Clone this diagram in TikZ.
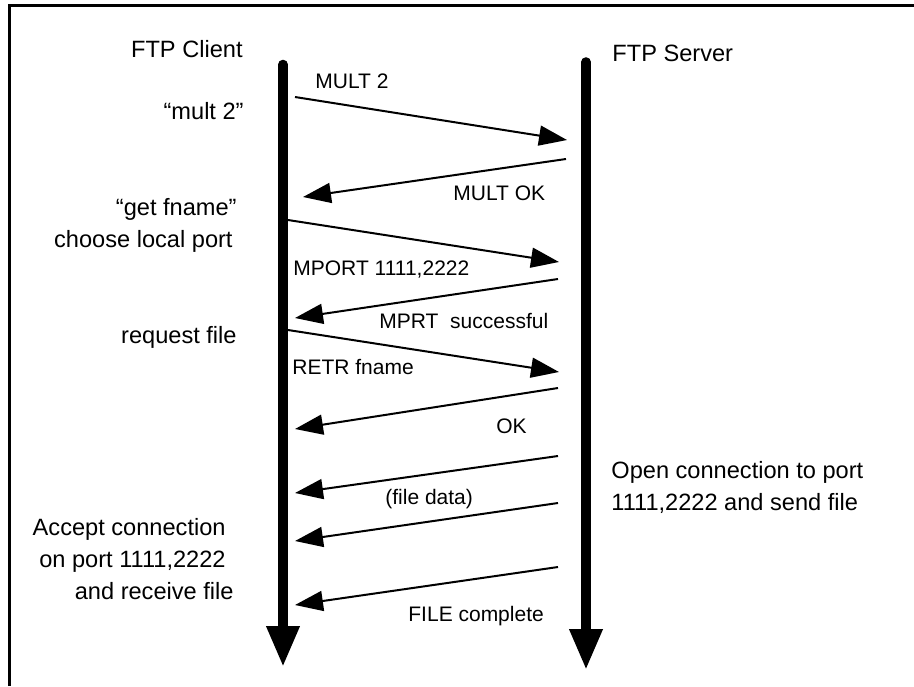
\documentclass[tikz,border=0pt]{standalone}
\usepackage{fontspec}
\setmainfont{Liberation Sans}
\usetikzlibrary{arrows.meta}

\tikzset{
  life/.style={line width=4.8pt, line cap=round, -{Triangle[width=15.5pt,length=20.5pt]}},
  msg/.style={line width=1pt, -{Triangle[width=10pt,length=14pt]}},
  lbl/.style={inner sep=0pt, font=\fontsize{10.5}{12}\selectfont, anchor=base west},
  note/.style={inner sep=0pt, font=\fontsize{11.8}{16}\selectfont},
}

\begin{document}
\begin{tikzpicture}[x=0.5pt,y=-0.5pt]
  \useasboundingbox (0,0) rectangle (914,686);
  % frame
  \draw[line width=1.25pt] (9.5,686) -- (9.5,5.5) -- (914,5.5);

  % lifelines
  \coordinate (cTop) at (283,64.5);
  \coordinate (cEnd) at (283,667);
  \coordinate (sTop) at (586,62);
  \coordinate (sEnd) at (586,670);
  \draw[life] (cTop) -- (cEnd);
  \draw[life] (sTop) -- (sEnd);

  \node[note,anchor=base east] (client) at (243,57) {FTP Client};
  \node[note,anchor=base west] (server) at (612,61) {FTP Server};

  % client side notes (base = last line)
  \node[note,anchor=base east] (mult) at (244,119) {“mult 2”};
  \node[note,anchor=base east,align=right] (get) at (237,247) {“get fname”\\choose local port\kern2pt};
  \node[note,anchor=base east] (req) at (237,343) {request file};
  \node[note,anchor=base east,align=right] (accept) at (234,599) {Accept connection\kern4pt\\on port 1111,2222\kern4pt\\and receive file};
  % server side note
  \node[note,anchor=base west,align=left] (open) at (611,510) {Open connection to port\\1111,2222 and send file};

  % messages
  \coordinate (m1a) at (295,97);  \coordinate (m1b) at (567,140);
  \coordinate (m2a) at (566,159); \coordinate (m2b) at (303,197);
  \coordinate (m3a) at (288,220); \coordinate (m3b) at (559,262);
  \coordinate (m4a) at (558,279); \coordinate (m4b) at (295,318);
  \coordinate (m5a) at (288,330); \coordinate (m5b) at (559,372);
  \coordinate (m6a) at (558,388); \coordinate (m6b) at (295,429);
  \coordinate (m7a) at (558,456); \coordinate (m7b) at (295,493);
  \coordinate (m8a) at (558,503); \coordinate (m8b) at (295,541);
  \coordinate (m9a) at (558,567); \coordinate (m9b) at (295,605);
  \draw[msg] (m1a) -- (m1b);
  \draw[msg] (m2a) -- (m2b);
  \draw[msg] (m3a) -- (m3b);
  \draw[msg] (m4a) -- (m4b);
  \draw[msg] (m5a) -- (m5b);
  \draw[msg] (m6a) -- (m6b);
  \draw[msg] (m7a) -- (m7b);
  \draw[msg] (m8a) -- (m8b);
  \draw[msg] (m9a) -- (m9b);

  \node[lbl] (l1) at (315,88) {MULT 2};
  \node[lbl] (l2) at (453,200) {MULT OK};
  \node[lbl] (l3) at (293,275) {MPORT 1111,2222};
  \node[lbl] (l4) at (379,328) {MPRT\ \ successful};
  \node[lbl] (l5) at (292,374) {RETR fname};
  \node[lbl] (l6) at (496,433) {OK};
  \node[lbl] (l7) at (385,504) {(file data)};
  \node[lbl] (l9) at (408,621) {FILE complete};
\end{tikzpicture}
\end{document}
